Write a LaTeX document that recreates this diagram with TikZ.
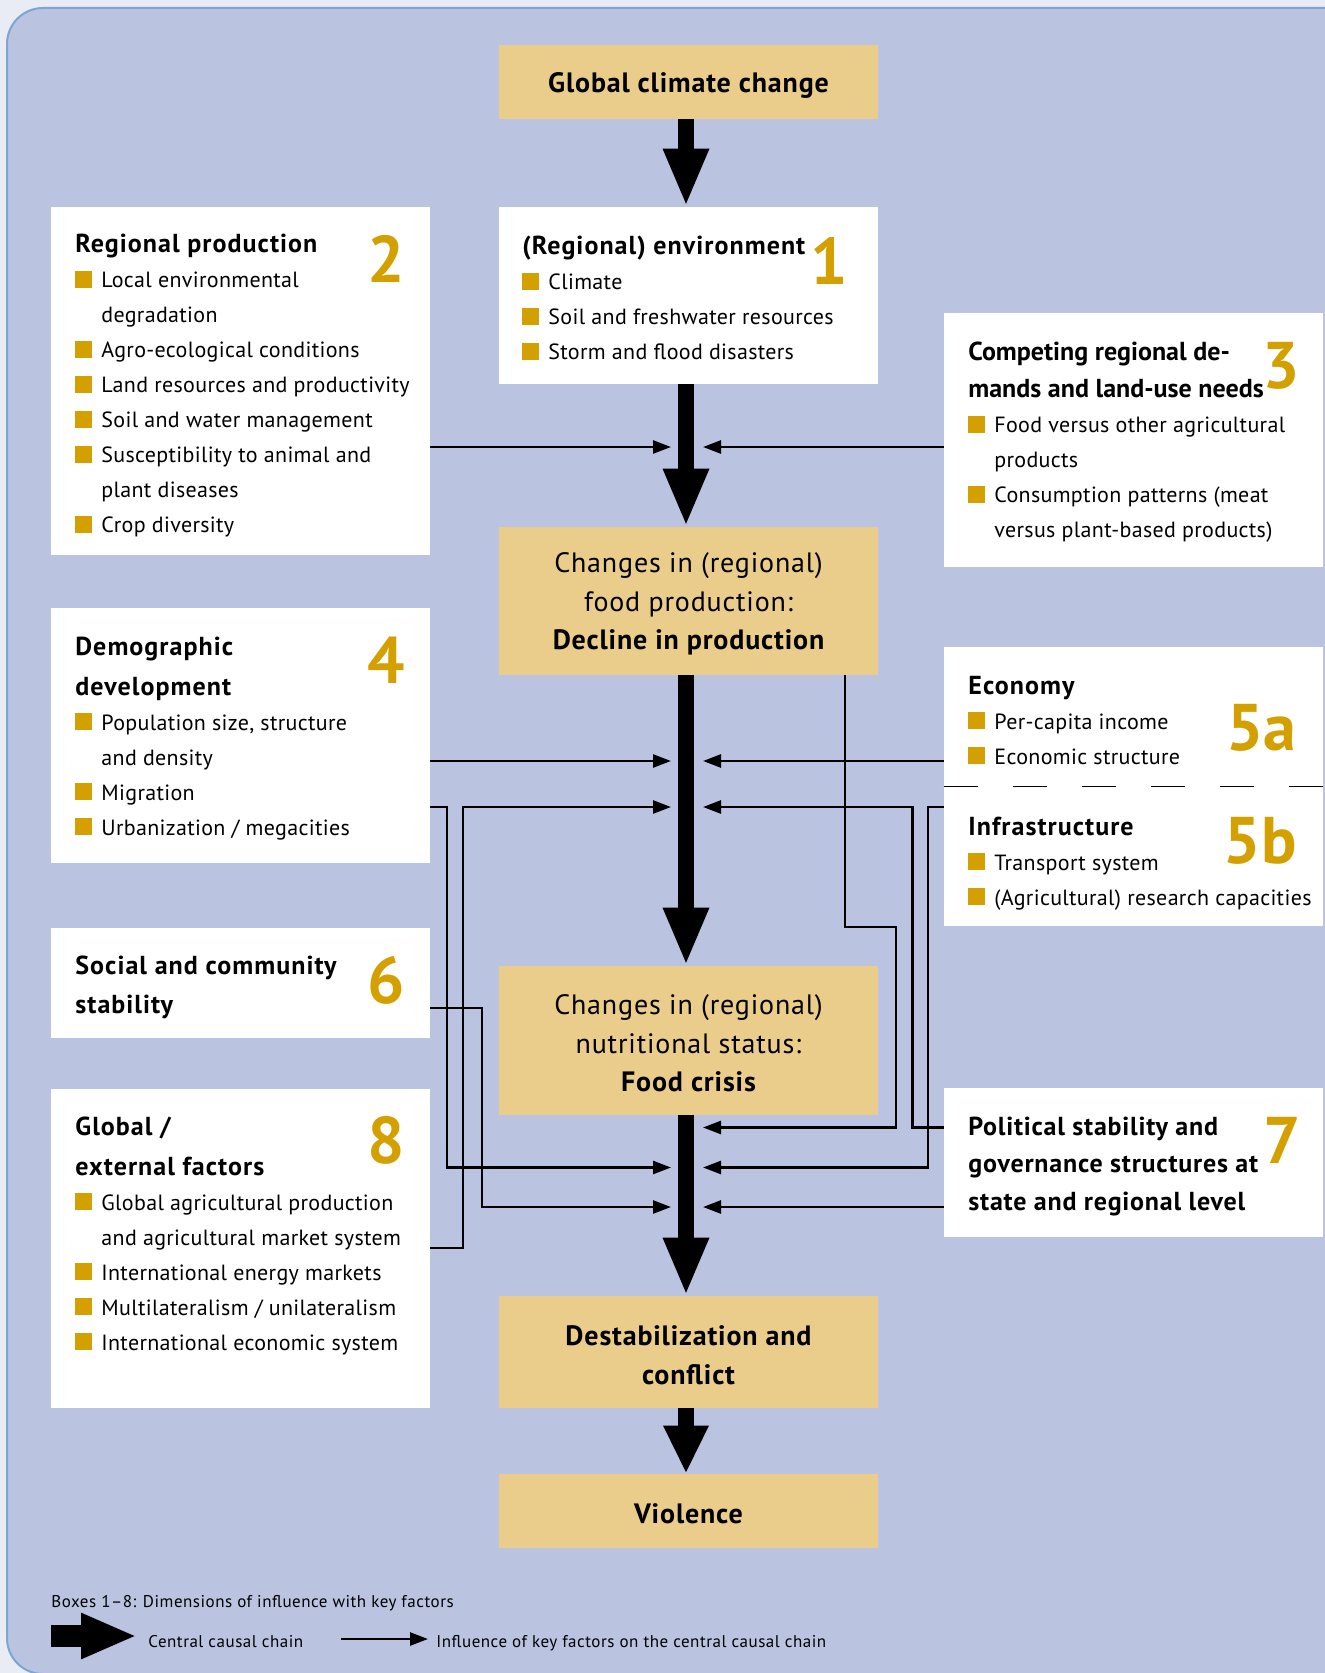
\documentclass[tikz,border=0pt]{standalone}
\usepackage{fontspec}
\setmainfont{PT Sans}
\newfontfamily\itmfam[LetterSpace=1.5]{PT Sans}
\newfontfamily\ttlfam[LetterSpace=4]{PT Sans}
\newfontfamily\ctrfam[LetterSpace=3]{PT Sans}
\newfontfamily\legfam[LetterSpace=3]{PT Sans}
\usetikzlibrary{arrows.meta,fit}
\definecolor{outerbg}{HTML}{E9ECF4}
\definecolor{panel}{HTML}{BAC4E1}
\definecolor{panelborder}{HTML}{7EA4D0}
\definecolor{ybox}{HTML}{EACC8B}
\definecolor{gold}{HTML}{D4A000}
\newcommand{\bul}{{\color{gold}\rule{8.5pt}{8.5pt}}\hspace{4.5pt}}
\newcommand{\itmfont}{\itmfam\mdseries\fontsize{11}{17.5}\selectfont}
\newcommand{\ttlfont}{\ttlfam\bfseries\fontsize{13}{20}\selectfont}
\newcommand{\itm}[1]{\par\hangindent=13pt\hangafter=1\noindent\bul #1\par}
\newcommand{\boxtext}[1]{\parbox[t]{300pt}{\raggedright #1}}
\tikzset{
  wbox/.style={fill=white, inner sep=0pt, draw=none},
  ybx/.style={fill=ybox, inner sep=0pt, draw=none},
  ctext/.style={anchor=center, inner sep=0pt, yshift=-1.6pt, align=center, font=\ctrfam\fontsize{14}{19.25}\selectfont},
  txt/.style={anchor=base west, inner sep=0pt},
  num/.style={anchor=base east, inner sep=0pt, text=gold, font=\bfseries\fontsize{33}{33}\selectfont},
  legtxt/.style={anchor=base west, inner sep=0pt, font=\legfam\fontsize{8.5}{10}\selectfont},
  bigarr/.style={line width=8pt, -{Triangle[length=29pt,width=21pt]}},
  thinarr/.style={line width=1.25pt, -{Triangle[length=9pt,width=6.5pt]}},
}
\begin{document}
\begin{tikzpicture}[x=0.5pt,y=-0.5pt]
\clip (0,0) rectangle (1325,1673);
\fill[outerbg] (0,0) rectangle (1325,1673);
\draw[panelborder, fill=panel, line width=1pt, rounded corners=18pt] (7,8) rectangle (1400,1674);

% central chain boxes
\node[ybx, fit={(499,45)(878,119)}] (gcc) {};
\node[wbox, fit={(499,207)(878,384)}] (env) {};
\node[ybx, fit={(499,527)(878,675)}] (fp) {};
\node[ybx, fit={(499,966)(878,1115)}] (ns) {};
\node[ybx, fit={(499,1296)(878,1408)}] (dc) {};
\node[ybx, fit={(499,1474)(878,1548)}] (vi) {};
\node[ctext] (gcct) at (gcc.center) {\bfseries Global climate change};
\node[ctext] (fpt) at (fp.center) {Changes in (regional)\\food production:\\\bfseries Decline in production};
\node[ctext] (nst) at (ns.center) {Changes in (regional)\\nutritional status:\\\bfseries Food crisis};
\node[ctext] (dct) at (dc.center) {\bfseries Destabilization and\\\bfseries conflict};
\node[ctext] (vit) at (vi.center) {\bfseries Violence};

% side boxes
\node[wbox, fit={(51,207)(430,555)}] (b2) {};
\node[wbox, fit={(944,313)(1323,567)}] (b3) {};
\node[wbox, fit={(51,608)(430,863)}] (b4) {};
\node[wbox, fit={(944,647)(1323,786)}] (b5a) {};
\node[wbox, fit={(944,786)(1323,926)}] (b5b) {};
\node[wbox, fit={(51,928)(430,1038)}] (b6) {};
\node[wbox, fit={(944,1088)(1323,1237)}] (b7) {};
\node[wbox, fit={(51,1089)(430,1408)}] (b8) {};
\draw[line width=0.75pt, dash pattern=on 17pt off 17.5pt] (b5a.south west) -- (b5a.south east);

% box texts
\node[txt] (t1) at (522,255) {\boxtext{\ttlfont (Regional) environment\par\itmfont
 \itm{Climate}\itm{Soil and freshwater resources}\itm{Storm and flood disasters}}};
\node[txt] (t2) at (75,253) {\boxtext{\ttlfont Regional production\par\itmfont
 \itm{Local environmental\newline degradation}\itm{Agro-ecological conditions}\itm{Land resources and productivity}\itm{Soil and water management}\itm{Susceptibility to animal and\newline plant diseases}\itm{Crop diversity}}};
\node[txt] (t3) at (968,361) {\boxtext{\bfseries\fontsize{13}{18.5}\selectfont Competing regional de-\newline mands and land-use needs\par\itmfont
 \itm{Food versus other agricultural\newline products}\itm{Consumption patterns (meat\newline versus plant-based products)}}};
\node[txt] (t4) at (75,655) {\boxtext{\ttlfont Demographic\newline development\par\itmfont
 \itm{Population size, structure\newline and density}\itm{Migration}\itm{Urbanization / megacities}}};
\node[txt] (t5a) at (968,694) {\boxtext{\ttlfont Economy\par\itmfont
 \itm{Per-capita income}\itm{Economic structure}}};
\node[txt] (t5b) at (968,835) {\boxtext{\ttlfont Infrastructure\par\itmfont
 \itm{Transport system}\itm{(Agricultural) research capacities}}};
\node[txt] (t6) at (75,974) {\boxtext{\ttlfam\bfseries\fontsize{13}{19.75}\selectfont Social and community\newline stability\par}};
\node[txt] (t7) at (968,1135) {\boxtext{\bfseries\fontsize{13}{18.75}\selectfont\addfontfeatures{LetterSpace=3} Political stability and\newline governance structures at\newline state and regional level\par}};
\node[txt] (t8) at (75,1135) {\boxtext{\ttlfont Global /\newline external factors\par\itmfont
 \itm{Global agricultural production\newline and agricultural market system}\itm{International energy markets}\itm{Multilateralism / unilateralism}\itm{International economic system}}};

% numbers
\node[num] (n1) at (848,285) {1};
\node[num] (n2) at (405,283) {2};
\node[num] (n3) at (1300,389) {3};
\node[num] (n4) at (405,683) {4};
\node[num] (n5a) at (1297,750) {5a};
\node[num] (n5b) at (1297,863) {5b};
\node[num] (n6) at (405,1003) {6};
\node[num] (n7) at (1301,1163) {7};
\node[num] (n8) at (405,1163) {8};

% central causal chain
\coordinate (spine) at (686,0);
\draw[bigarr] (gcc.south -| spine) -- (env.north -| spine);
\draw[bigarr] (env.south -| spine) -- (fp.north -| spine);
\draw[bigarr] (fp.south -| spine) -- (ns.north -| spine);
\draw[bigarr] (ns.south -| spine) -- (dc.north -| spine);
\draw[line width=8pt, -{Triangle[length=24pt,width=21pt]}] (dc.south -| spine) -- (vi.north -| spine);

% influence arrows
\coordinate (L1) at (671,447);   \coordinate (R1) at (703,447);
\coordinate (L2) at (671,761);   \coordinate (R2) at (703,761);
\coordinate (L3) at (671,807);   \coordinate (R3) at (703,807);
\coordinate (L4) at (671,1167.5);\coordinate (R4) at (703,1167.5);
\coordinate (L5) at (671,1207);  \coordinate (R5) at (703,1207);
\coordinate (R6) at (703,1127.5);
\coordinate (vA) at (447,0); \coordinate (vB) at (463,0); \coordinate (vC) at (482,0);
\coordinate (vD) at (912.7,0); \coordinate (vE) at (928,0);
\coordinate (vF) at (845,0); \coordinate (vG) at (896,0);
\coordinate (h6) at (0,1008); \coordinate (h8) at (0,1248); \coordinate (h9) at (0,927);

\draw[thinarr] (b2.east |- L1) -- (L1);
\draw[thinarr] (b3.west |- R1) -- (R1);
\draw[thinarr] (b4.east |- L2) -- (L2);
\draw[thinarr] (b5a.west |- R2) -- (R2);
\draw[thinarr] (b4.east |- L3) -| (vA |- L4) -- (L4);
\draw[thinarr] (b8.east |- h8) -| (vB |- L3) -- (L3);
\draw[thinarr] (b6.east |- h6) -| (vC |- L5) -- (L5);
\draw[thinarr] (b7.west |- R5) -- (R5);
\draw[thinarr] (b7.west |- R6) -| (vD |- R3) -- (R3);
\draw[thinarr] (b5b.west |- R3) -| (vE |- R4) -- (R4);
\draw[thinarr] (fp.south -| vF) |- (vG |- h9) -- (vG |- R6) -- (R6);

% legend
\node[legtxt] (lg0) at (51,1607) {Boxes 1–8: Dimensions of influence with key factors};
\coordinate (lgA) at (51,1636); \coordinate (lgB) at (137,1636);
\draw[line width=11pt, -{Triangle[length=28pt,width=21pt]}] (lgA) -- (lgB);
\node[legtxt] (lg1) at (148,1647) {Central causal chain};
\coordinate (lgC) at (341,1639); \coordinate (lgD) at (428,1639);
\draw[thinarr] (lgC) -- (lgD);
\node[legtxt] (lg2) at (436,1647) {Influence of key factors on the central causal chain};
\end{tikzpicture}
\end{document}
